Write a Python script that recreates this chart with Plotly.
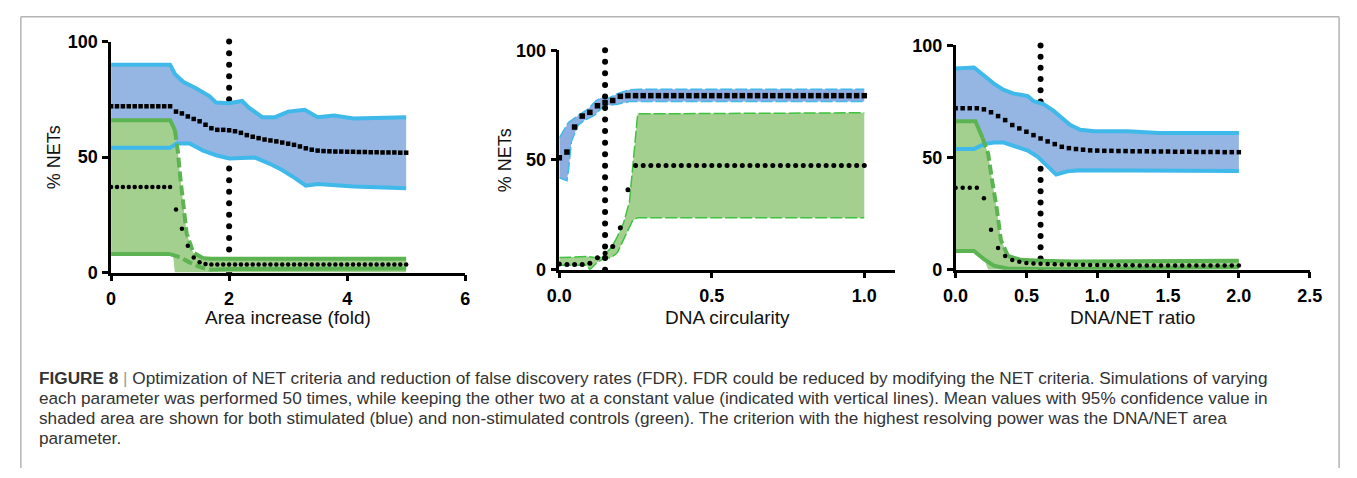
import numpy as np
import plotly.graph_objects as go

# ---------------- DATA ----------------
# Panel 1: Area increase (fold)
p1_blue_up_x = [0, 1.0, 1.08, 1.22, 1.44, 1.67, 1.78, 2.0, 2.22, 2.33, 2.56, 2.78, 3.0, 3.28, 3.5, 3.78, 4.11, 5.0]
p1_blue_up_y = [90, 90, 86, 82.6, 79.8, 76.3, 73.6, 73.3, 74.3, 71.5, 67.3, 67.3, 69.7, 70.5, 67.3, 68, 66.7, 67.3]
p1_blue_lo_x = [0, 1.0, 1.11, 1.33, 1.56, 1.78, 2.0, 2.22, 2.44, 2.67, 2.89, 3.11, 3.3, 3.5, 3.83, 4.11, 5.0]
p1_blue_lo_y = [54, 54, 55.9, 55.9, 52.8, 50.8, 49.4, 49.8, 49.8, 47.3, 44.5, 41, 37.6, 38.3, 37.6, 37.3, 36.5]
p1_green_up_x = [0, 1.0, 1.08, 1.13, 1.17, 1.22, 1.28, 1.39, 1.56, 1.7, 5.0]
p1_green_up_y = [66, 66, 61.8, 52.8, 41.8, 30.7, 17, 8.7, 6.2, 6, 6]
p1_green_lo_x = [0, 1.0, 1.17, 1.33, 1.5, 1.67, 2.0, 5.0]
p1_green_lo_y = [8, 8, 6.6, 4.4, 2.4, 1.2, 1.5, 1.7]
p1_green_fill_lo_x = [0, 1.0, 1.05, 1.08, 5.0]
p1_green_fill_lo_y = [8, 8, 7.5, 0, 0]
p1_x = np.round(np.arange(0, 5.001, 0.1), 2)
p1_blue_mean = [72, 72, 72, 72, 72, 72, 72, 72, 72, 72, 72,
                69.7, 68.9, 67.6, 66.5, 65.5, 64, 62.5, 61.8, 61.8, 61.6,
                61.2, 60.5, 59.5, 58.8, 58.2, 57.6, 57.2, 56.8, 56.3, 55.8,
                55.3, 54.6, 53.8, 53.2, 52.8, 52.6, 52.5, 52.4, 52.4, 52.3,
                52.3, 52.2, 52.2, 52.1, 52.1, 52.0, 52.0, 52.0, 51.9, 51.9]
p1_green_mean = [37, 37, 37, 37, 37, 37, 37, 37, 37, 37, 37,
                 27.3, 19, 11.6, 6.5, 4.5, 3.7, 3.5, 3.5, 3.5, 3.5,
                 3.5, 3.5, 3.5, 3.5, 3.5, 3.5, 3.5, 3.5, 3.5, 3.5,
                 3.5, 3.5, 3.5, 3.5, 3.5, 3.5, 3.5, 3.5, 3.5, 3.5,
                 3.5, 3.5, 3.5, 3.5, 3.5, 3.5, 3.5, 3.5, 3.5, 3.5]
p1_vline_x = 2.0

# Panel 2: DNA circularity
p2_blue_up_x = [0, 0.03, 0.062, 0.094, 0.12, 0.137, 0.16, 0.19, 0.23, 0.265, 1.0]
p2_blue_up_y = [60.1, 67.1, 70.3, 73.2, 76.9, 78.3, 78.0, 80.2, 82, 82.2, 82.2]
p2_blue_lo_x = [0, 0.025, 0.03, 0.04, 0.062, 0.083, 0.115, 0.147, 0.19, 0.23, 0.265, 1.0]
p2_blue_lo_y = [41.9, 40.5, 45.5, 58.6, 65.9, 68.1, 70.3, 74.7, 75.4, 76.6, 76.6, 76.6]
p2_green_up_x = [0, 0.094, 0.115, 0.137, 0.147, 0.17, 0.19, 0.21, 0.23, 0.24, 0.25, 0.257, 1.0]
p2_green_up_y = [5.5, 6, 5.5, 5.5, 7, 9.9, 15, 21, 31, 45.5, 63, 71, 71.5]
p2_green_lo_x = [0, 0.09, 0.1, 0.125, 0.147, 0.17, 0.19, 0.21, 0.23, 0.24, 0.257, 1.0]
p2_green_lo_y = [2, 2, 0, 3.4, 5.1, 5.5, 7.7, 13.5, 19.3, 22.3, 23.7, 23.7]
p2_x = np.round(np.arange(0, 1.0001, 0.025), 3)
p2_blue_mean = [51, 53.6, 65, 70, 71.7, 74.7, 76.1, 77.1, 79, 79.3] + [79.3] * 31
p2_green_mean = [2.6, 2.3, 2.3, 2.3, 2.9, 5.4, 7.5, 10.6, 19.1, 36.4, 47.5] + [47.5] * 30
p2_vline_x = 0.15

# Panel 3: DNA/NET ratio
p3_blue_up_x = [0, 0.13, 0.2, 0.27, 0.34, 0.41, 0.46, 0.51, 0.55, 0.62, 0.69, 0.74, 0.81, 0.88, 0.98, 1.21, 1.44, 2.0]
p3_blue_up_y = [89.7, 90.2, 86.6, 83, 80.2, 78.5, 78, 77.4, 75.2, 73.8, 70.9, 68.1, 64.5, 62.4, 61.7, 61.7, 61, 61]
p3_blue_lo_x = [0, 0.13, 0.2, 0.27, 0.34, 0.41, 0.51, 0.58, 0.65, 0.71, 0.79, 0.88, 2.0]
p3_blue_lo_y = [53.8, 53.8, 56, 56.7, 56.7, 55.3, 53.1, 50.3, 46, 42.4, 43.9, 44.3, 44]
p3_green_up_x = [0, 0.14, 0.19, 0.23, 0.26, 0.29, 0.32, 0.37, 0.46, 0.6, 0.83, 2.0]
p3_green_up_y = [66.2, 66.2, 58.8, 51.7, 38.9, 27.5, 13.2, 6.1, 4.4, 4, 3.6, 4]
p3_green_lo_x = [0, 0.13, 0.2, 0.27, 0.37, 0.74, 2.0]
p3_green_lo_y = [8.3, 8.3, 4.7, 1.8, 0.4, 0.2, 1.2]
p3_green_fill_lo_x = [0, 0.13, 0.2, 0.23, 2.0]
p3_green_fill_lo_y = [8.3, 8.3, 5, 0, 0]
p3_x = np.round(np.arange(0, 2.0001, 0.05), 2)
p3_blue_mean = [72, 72, 72, 72, 71.5, 70.2, 68.5, 66.7, 64.5, 63, 61.5,
                60, 58.5, 57.2, 56, 54.8, 54.2, 53.8, 53.5, 53.2, 53.1,
                53.0, 53.0, 52.9, 52.9, 52.8, 52.8, 52.8, 52.7, 52.7, 52.7,
                52.6, 52.6, 52.6, 52.5, 52.5, 52.5, 52.5, 52.4, 52.4, 52.4]
p3_green_mean = [36.5, 36.5, 36.5, 36.5, 31.8, 17.8, 9.7, 6.1, 4.3, 3.5, 3.0,
                 2.7, 2.6, 2.5, 2.4, 2.3, 2.3, 2.2, 2.2, 2.1, 2.1,
                 2.1, 2.0, 2.0, 2.0, 2.0, 1.9, 1.9, 1.9, 1.9, 1.9,
                 1.9, 1.8, 1.8, 1.8, 1.8, 1.8, 1.8, 1.8, 1.8, 1.8]
p3_vline_x = 0.6

x_titles = ["Area increase (fold)", "DNA circularity", "DNA/NET ratio"]
y_title = "% NETs"
p1_xticks = [0, 2, 4, 6]
p1_xticktext = ["0", "2", "4", "6"]
p2_xticks = [0, 0.5, 1.0]
p2_xticktext = ["0.0", "0.5", "1.0"]
p3_xticks = [0, 0.5, 1.0, 1.5, 2.0, 2.5]
p3_xticktext = ["0.0", "0.5", "1.0", "1.5", "2.0", "2.5"]
y_ticks = [0, 50, 100]
y_ticktext = ["0", "50", "100"]

caption_lines = [
    "<b>FIGURE 8</b> <span style='color:#9a9a9a'>|</span> Optimization of NET criteria and reduction of false discovery rates (FDR). FDR could be reduced by modifying the NET criteria. Simulations of varying",
    "each parameter was performed 50 times, while keeping the other two at a constant value (indicated with vertical lines). Mean values with 95% confidence value in",
    "shaded area are shown for both stimulated (blue) and non-stimulated controls (green). The criterion with the highest resolving power was the DNA/NET area",
    "parameter.",
]

# ---------------- STYLE ----------------
W, H = 1357, 478
BLUE_FILL = "#95b5e3"
BLUE_LINE = "#3fb8ea"
GREEN_FILL = "#a3cf8f"
GREEN_LINE = "#5cb352"
GREEN_LINE2 = "#3fc23f"
FONT = "Liberation Sans, Arial, Helvetica, sans-serif"

fig = go.Figure()


def poly(xu, yu, xl, yl):
    return list(xu) + list(xl)[::-1], list(yu) + list(yl)[::-1]


def add_fill(xa, ya, xu, yu, xl, yl, color):
    px, py = poly(xu, yu, xl, yl)
    fig.add_trace(go.Scatter(x=px, y=py, xaxis=xa, yaxis=ya, mode="lines", fill="toself",
                             fillcolor=color, line=dict(width=0), hoverinfo="skip"))


def add_line(xa, ya, x, y, color, width, dash="solid"):
    fig.add_trace(go.Scatter(x=list(x), y=list(y), xaxis=xa, yaxis=ya, mode="lines",
                             line=dict(color=color, width=width, dash=dash), cliponaxis=False))


def add_split_line(xa, ya, x, y, color, width, i0, i1, dash="10px,4px"):
    # solid flat part, dashed steep part (between indices i0 and i1), solid again
    add_line(xa, ya, x[:i0 + 1], y[:i0 + 1], color, width)
    add_line(xa, ya, x[i0:i1 + 1], y[i0:i1 + 1], color, width, dash)
    add_line(xa, ya, x[i1:], y[i1:], color, width)


def add_markers(xa, ya, x, y, symbol, size):
    fig.add_trace(go.Scatter(x=x, y=y, xaxis=xa, yaxis=ya, mode="markers",
                             marker=dict(symbol=symbol, size=size, color="black", line=dict(width=0)),
                             cliponaxis=False))


def add_vline(xa, ya, xv, n):
    ys = np.linspace(0, 100, n)
    add_markers(xa, ya, [xv] * n, ys, "circle", 6)


# Panel 1
add_vline("x", "y", p1_vline_x, 21)
add_fill("x", "y", p1_blue_up_x, p1_blue_up_y, p1_blue_lo_x, p1_blue_lo_y, BLUE_FILL)
add_fill("x", "y", p1_green_up_x, p1_green_up_y, p1_green_fill_lo_x, p1_green_fill_lo_y, GREEN_FILL)
add_line("x", "y", p1_blue_up_x, p1_blue_up_y, BLUE_LINE, 4)
add_line("x", "y", p1_blue_lo_x, p1_blue_lo_y, BLUE_LINE, 4)
add_split_line("x", "y", p1_green_up_x, p1_green_up_y, GREEN_LINE, 4, 2, 8)
add_split_line("x", "y", p1_green_lo_x, p1_green_lo_y, GREEN_LINE, 4, 1, 5)
add_markers("x", "y", p1_x, p1_blue_mean, "square", 4.5)
add_markers("x", "y", p1_x, p1_green_mean, "circle", 4.5)

# Panel 2
add_fill("x2", "y2", p2_blue_up_x, p2_blue_up_y, p2_blue_lo_x, p2_blue_lo_y, "#8eaee2")
add_fill("x2", "y2", p2_green_up_x, p2_green_up_y, p2_green_lo_x, p2_green_lo_y, GREEN_FILL)
add_line("x2", "y2", p2_blue_up_x, p2_blue_up_y, BLUE_LINE, 1.5, "12px,3px")
add_line("x2", "y2", p2_blue_lo_x, p2_blue_lo_y, BLUE_LINE, 1.5, "12px,3px")
add_line("x2", "y2", p2_green_up_x, p2_green_up_y, GREEN_LINE2, 1.5, "12px,3px")
add_line("x2", "y2", p2_green_lo_x, p2_green_lo_y, GREEN_LINE2, 1.5, "12px,3px")
add_markers("x2", "y2", p2_x, p2_blue_mean, "square", 5.5)
add_markers("x2", "y2", p2_x, p2_green_mean, "circle", 5)
add_vline("x2", "y2", p2_vline_x, 20)

# Panel 3
add_vline("x3", "y3", p3_vline_x, 21)
add_fill("x3", "y3", p3_blue_up_x, p3_blue_up_y, p3_blue_lo_x, p3_blue_lo_y, BLUE_FILL)
add_fill("x3", "y3", p3_green_up_x, p3_green_up_y, p3_green_fill_lo_x, p3_green_fill_lo_y, GREEN_FILL)
add_line("x3", "y3", p3_blue_up_x, p3_blue_up_y, BLUE_LINE, 4)
add_line("x3", "y3", p3_blue_lo_x, p3_blue_lo_y, BLUE_LINE, 4)
add_split_line("x3", "y3", p3_green_up_x, p3_green_up_y, GREEN_LINE, 4, 2, 7)
add_line("x3", "y3", p3_green_lo_x, p3_green_lo_y, GREEN_LINE, 4)
add_markers("x3", "y3", p3_x, p3_blue_mean, "square", 4.5)
add_markers("x3", "y3", p3_x, p3_green_mean, "circle", 4.5)

# Axes layout (pixel boxes)
boxes = {
    "1": dict(x0=100, x1=461, y0=33, y1=274, xr=[0, 6], xt=p1_xticks, xtt=p1_xticktext),
    "2": dict(x0=557, x1=899, y0=42, y1=271, xr=[0, 1.1], xt=p2_xticks, xtt=p2_xticktext),
    "3": dict(x0=961, x1=1322, y0=37, y1=271, xr=[0, 2.5], xt=p3_xticks, xtt=p3_xticktext),
}
common = dict(showline=True, linecolor="black", linewidth=2.5, ticks="outside", ticklen=6,
              tickwidth=2.5, tickcolor="black", showgrid=False, zeroline=False, fixedrange=True,
              tickfont=dict(family=FONT, size=18, color="black", weight="bold"))
layout_axes = {}
for k, b in boxes.items():
    sx = "" if k == "1" else k
    xdom = [b["x0"] / W, b["x1"] / W]
    ydom = [1 - b["y1"] / H, 1 - b["y0"] / H]
    layout_axes["xaxis" + sx] = dict(domain=xdom, range=b["xr"], tickvals=b["xt"], ticktext=b["xtt"],
                                     anchor="y" + sx, ticklabelstandoff=2, **common)
    layout_axes["yaxis" + sx] = dict(domain=ydom, range=[0, 100], tickvals=y_ticks, ticktext=y_ticktext,
                                     anchor="x" + sx, ticklabelstandoff=1, **common)

fig.update_layout(**layout_axes)

annotations = []
# x axis titles
for k, t in zip(["1", "2", "3"], x_titles):
    b = boxes[k]
    annotations.append(dict(text=t, x=(b["x0"] + b["x1"]) / 2 / W, y=1 - 321 / H, xref="paper", yref="paper",
                            xanchor="center", yanchor="middle", showarrow=False,
                            font=dict(family=FONT, size=19, color="#111")))
# y axis titles
for xc, k in [(42, "1"), (502, "2")]:
    b = boxes[k]
    annotations.append(dict(text=y_title, x=xc / W, y=1 - (b["y0"] + b["y1"]) / 2 / H, xref="paper", yref="paper",
                            xanchor="center", yanchor="middle", textangle=-90, showarrow=False,
                            font=dict(family=FONT, size=18, color="#111")))
# caption
for i, line in enumerate(caption_lines):
    annotations.append(dict(text=line, x=24 / W, y=1 - (384 + 21 * i) / H, xref="paper", yref="paper",
                            xanchor="left", yanchor="middle", showarrow=False, align="left",
                            font=dict(family=FONT, size=17.2, color="#333")))

shapes = [
    dict(type="line", xref="paper", yref="paper", x0=8 / W, x1=1352 / W, y0=1 - 7 / H, y1=1 - 7 / H,
         line=dict(color="#b4b4b4", width=1.5)),
    dict(type="line", xref="paper", yref="paper", x0=8 / W, x1=8 / W, y0=0, y1=1 - 7 / H,
         line=dict(color="#b4b4b4", width=1.5)),
    dict(type="line", xref="paper", yref="paper", x0=1352 / W, x1=1352 / W, y0=0, y1=1 - 7 / H,
         line=dict(color="#b4b4b4", width=1.5)),
]

fig.update_layout(width=W, height=H, margin=dict(l=0, r=0, t=0, b=0), showlegend=False,
                  paper_bgcolor="white", plot_bgcolor="white", annotations=annotations, shapes=shapes)

fig.write_html("out.html", config={"displayModeBar": False},
               post_script="document.body.style.margin='0';document.body.style.overflow='hidden';")
